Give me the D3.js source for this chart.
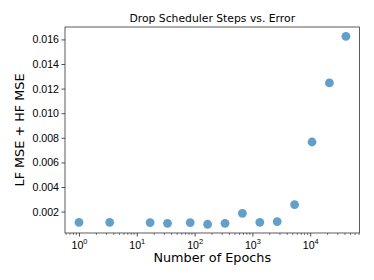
<!DOCTYPE html>
<html>
<head>
<meta charset="utf-8">
<script src="https://cdn.jsdelivr.net/npm/d3@7"></script>
<style>
  body { margin: 0; background: #fff; }
  svg { font-family: "DejaVu Sans", sans-serif; }
</style>
</head>
<body>
<svg id="chart" width="374" height="280"></svg>
<script>
// values
const epochs = [1, 3.4, 17, 34, 84, 168, 336, 672, 1344, 2688, 5376, 10752, 21504, 41500];
const errors = [0.00113, 0.00113, 0.00111, 0.00105, 0.00111, 0.00097, 0.00105, 0.00186,
                0.00113, 0.00119, 0.00257, 0.00766, 0.01246, 0.01625];
const yTicks = [0.002, 0.004, 0.006, 0.008, 0.010, 0.012, 0.014, 0.016];
const xTicks = [1, 10, 100, 1000, 10000];

const svg = d3.select('#chart');
const m = { left: 65, right: 14.5, top: 27, bottom: 47 };
const w = 374 - m.left - m.right;
const h = 280 - m.top - m.bottom;

const x = d3.scaleLog().domain([0.573, 71300]).range([0, w]);
const y = d3.scaleLinear().domain([0.00026, 0.01701]).range([h, 0]);

const g = svg.append('g').attr('transform', `translate(${m.left},${m.top})`);

// minor ticks on the log axis
const minor = [];
for (let e = -1; e <= 4; e++) {
    for (let k = 2; k <= 9; k++) {
        const v = k * Math.pow(10, e);
        if (v > x.domain()[0] && v < x.domain()[1]) minor.push(v);
    }
}
g.append('g')
    .attr('transform', `translate(0,${h})`)
    .selectAll('line')
    .data(minor)
    .enter()
    .append('line')
    .attr('x1', d => x(d))
    .attr('x2', d => x(d))
    .attr('y1', 0)
    .attr('y2', 2)
    .attr('stroke', '#222')
    .attr('stroke-width', 0.6);

const xAxis = g.append('g')
    .attr('transform', `translate(0,${h})`)
    .call(d3.axisBottom(x).tickValues(xTicks).tickSize(3.5).tickFormat(() => ''));
xAxis.selectAll('.tick').each(function (d) {
    const t = d3.select(this).append('text')
        .attr('y', 15.5)
        .attr('fill', '#000')
        .attr('font-size', 10.6)
        .attr('text-anchor', 'middle');
    t.append('tspan').text('10');
    t.append('tspan').attr('font-size', 7.4).attr('dy', -4.2).text(String(Math.round(Math.log10(d))));
});

const yAxis = g.append('g')
    .call(d3.axisLeft(y).tickValues(yTicks).tickSize(3.5).tickPadding(2.5).tickFormat(d3.format('.3f')));
yAxis.selectAll('text').attr('font-size', 10.6).attr('fill', '#000');

[xAxis, yAxis].forEach(a => {
    a.select('.domain').remove();
    a.selectAll('.tick line').attr('stroke', '#222').attr('stroke-width', 0.8);
});

// frame
g.append('rect')
    .attr('width', w)
    .attr('height', h)
    .attr('fill', 'none')
    .attr('stroke', '#333')
    .attr('stroke-width', 0.8);

g.selectAll('circle')
    .data(epochs)
    .enter()
    .append('circle')
    .attr('cx', d => x(d))
    .attr('cy', (d, i) => y(errors[i]))
    .attr('r', 4.4)
    .attr('fill', '#1f77b4')
    .attr('fill-opacity', 0.7);

svg.append('text')
    .attr('x', m.left + w / 2)
    .attr('y', 22)
    .attr('text-anchor', 'middle')
    .attr('font-size', 10.8)
    .text('Drop Scheduler Steps vs. Error');

svg.append('text')
    .attr('x', m.left + w / 2)
    .attr('y', 262)
    .attr('text-anchor', 'middle')
    .attr('font-size', 12.8)
    .text('Number of Epochs');

svg.append('text')
    .attr('transform', `translate(24,${m.top + h / 2}) rotate(-90)`)
    .attr('text-anchor', 'middle')
    .attr('font-size', 12.8)
    .text('LF MSE + HF MSE');
</script>
</body>
</html>
